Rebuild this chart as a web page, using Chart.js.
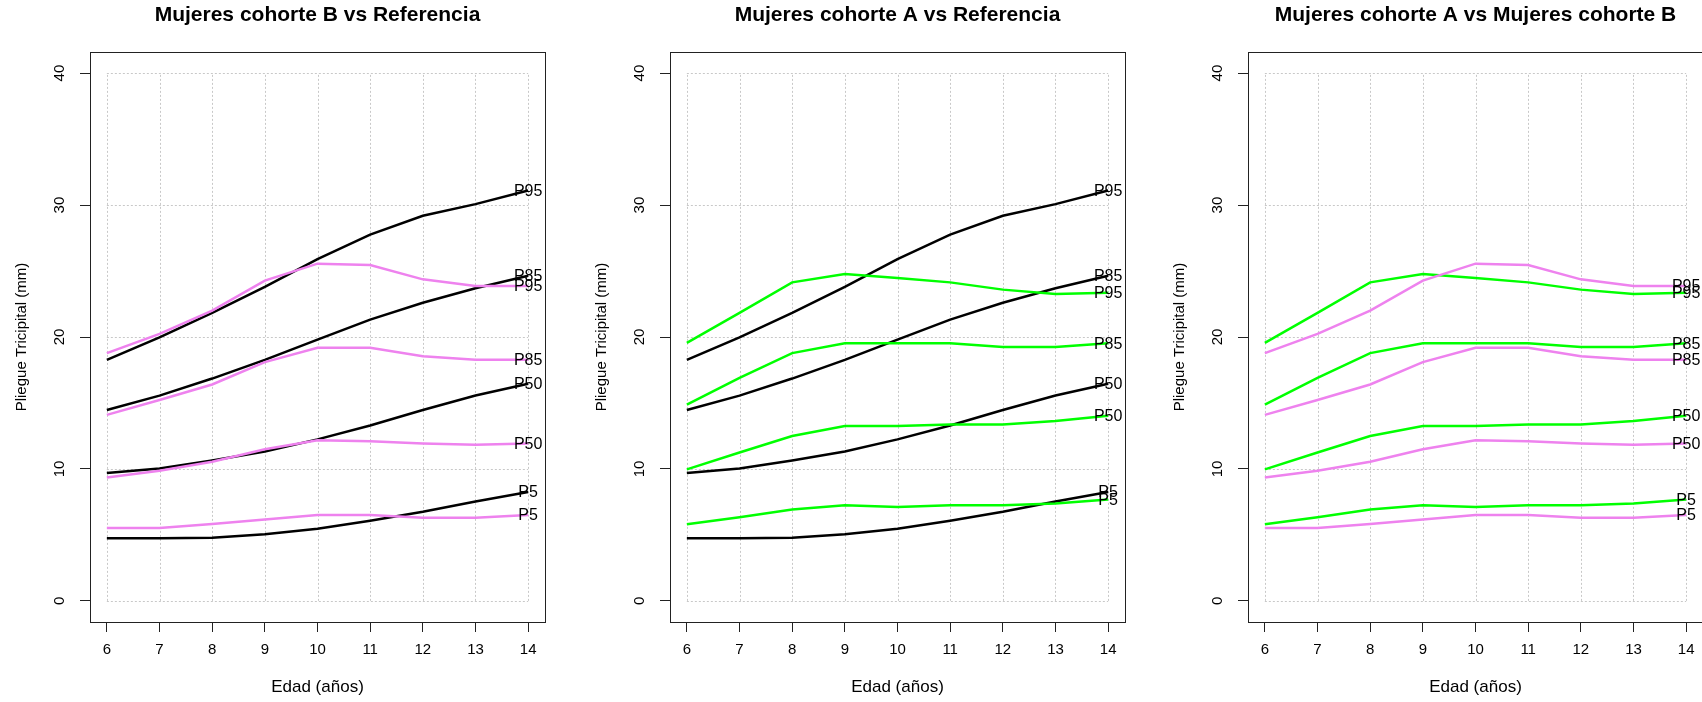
<!DOCTYPE html>
<html lang="es">
<head>
<meta charset="utf-8">
<title>Pliegue tricipital - mujeres</title>
<script src="https://cdn.jsdelivr.net/npm/chart.js@4.4.1/dist/chart.umd.min.js"></script>
<style>
  html, body { margin: 0; padding: 0; background: #fff; overflow: hidden; }
  #fila { position: relative; width: 1702px; height: 702px; overflow: hidden; }
  .panel { position: absolute; top: 0; width: 579px; height: 702px; }
</style>
</head>
<body>
<div id="fila">
  <div class="panel" style="left:0px"><canvas id="g1" width="579" height="702"></canvas></div>
  <div class="panel" style="left:580px"><canvas id="g2" width="579" height="702"></canvas></div>
  <div class="panel" style="left:1158px"><canvas id="g3" width="579" height="702"></canvas></div>
</div>
<script>
// edades (años) y ejes
const edades = [6, 7, 8, 9, 10, 11, 12, 13, 14];
const ticksEdad = [6, 7, 8, 9, 10, 11, 12, 13, 14];
const ticksPliegue = [0, 10, 20, 30, 40];
const percentiles = ['P5', 'P50', 'P85', 'P95'];

// pliegue tricipital (mm) - referencia
const refP5  = [4.75, 4.75, 4.78, 5.05, 5.46, 6.07, 6.75, 7.53, 8.25];
const refP50 = [9.69, 10.03, 10.64, 11.32, 12.24, 13.29, 14.47, 15.56, 16.45];
const refP85 = [14.47, 15.56, 16.85, 18.27, 19.8, 21.32, 22.6, 23.7, 24.64];
const refP95 = [18.27, 19.97, 21.83, 23.8, 25.9, 27.76, 29.19, 30.07, 31.1];

// mujeres cohorte A
const aP5  = [5.8, 6.34, 6.92, 7.25, 7.12, 7.25, 7.25, 7.39, 7.69];
const aP50 = [9.97, 11.25, 12.5, 13.25, 13.25, 13.36, 13.36, 13.63, 14.03];
const aP85 = [14.88, 16.9, 18.78, 19.53, 19.53, 19.53, 19.25, 19.25, 19.53];
const aP95 = [19.56, 21.83, 24.14, 24.78, 24.47, 24.14, 23.59, 23.25, 23.36];

// mujeres cohorte B
const bP5  = [5.53, 5.53, 5.83, 6.17, 6.51, 6.51, 6.3, 6.3, 6.51];
const bP50 = [9.36, 9.86, 10.54, 11.49, 12.17, 12.1, 11.93, 11.83, 11.93];
const bP85 = [14.1, 15.22, 16.4, 18.1, 19.19, 19.19, 18.54, 18.27, 18.27];
const bP95 = [18.78, 20.24, 22.0, 24.27, 25.56, 25.46, 24.37, 23.86, 23.86];

const NEGRO = '#000000';
const VIOLETA = '#EE82EE';
const VERDE = '#00FF00';
const fuente = '"Liberation Sans", Arial, sans-serif';

function serie(valores, color, etiqueta) {
    return {
        label: etiqueta,
        data: edades.map((e, i) => ({ x: e, y: valores[i] })),
        borderColor: color,
        borderWidth: 2.5,
        pointRadius: 0,
        fill: false,
        tension: 0
    };
}

function grupo(tabla, color) {
    return percentiles.map((p, i) => serie(tabla[i], color, p));
}

// rejilla punteada solo dentro del rango de datos + caja
const rejilla = {
    id: 'rejilla',
    beforeDatasetsDraw(chart) {
        const { ctx, chartArea: a, scales: { x, y } } = chart;
        const x0 = x.getPixelForValue(ticksEdad[0]);
        const x1 = x.getPixelForValue(ticksEdad[ticksEdad.length - 1]);
        const y0 = y.getPixelForValue(ticksPliegue[0]);
        const y1 = y.getPixelForValue(ticksPliegue[ticksPliegue.length - 1]);
        ctx.save();
        ctx.strokeStyle = '#c8c8c8';
        ctx.lineWidth = 1;
        ctx.setLineDash([2, 2]);
        ctx.beginPath();
        ticksEdad.forEach(v => {
            const px = Math.round(x.getPixelForValue(v)) + 0.5;
            ctx.moveTo(px, y0);
            ctx.lineTo(px, y1);
        });
        ticksPliegue.forEach(v => {
            const py = Math.round(y.getPixelForValue(v)) + 0.5;
            ctx.moveTo(x0, py);
            ctx.lineTo(x1, py);
        });
        ctx.stroke();
        ctx.setLineDash([]);
        ctx.strokeStyle = '#222';
        ctx.strokeRect(Math.round(a.left) + 0.5, Math.round(a.top) + 0.5,
            Math.round(a.right) - Math.round(a.left), Math.round(a.bottom) - Math.round(a.top));
        ctx.restore();
    }
};

// texto del percentil al final de cada curva
const etiquetas = {
    id: 'etiquetas',
    afterDatasetsDraw(chart) {
        const { ctx, scales: { x, y } } = chart;
        ctx.save();
        ctx.font = '16px ' + fuente;
        ctx.fillStyle = '#000';
        ctx.textAlign = 'center';
        ctx.textBaseline = 'middle';
        chart.data.datasets.forEach(ds => {
            const ult = ds.data[ds.data.length - 1];
            ctx.fillText(ds.label, x.getPixelForValue(ult.x), y.getPixelForValue(ult.y) + 1);
        });
        ctx.restore();
    }
};

function grafico(id, titulo, datasets) {
    new Chart(document.getElementById(id), {
        type: 'line',
        data: { datasets: datasets },
        options: {
            responsive: false,
            animation: false,
            devicePixelRatio: 1,
            layout: { padding: { top: 0, left: 0, right: 34, bottom: 0 } },
            scales: {
                x: {
                    type: 'linear',
                    position: 'bottom',
                    min: 5.68,
                    max: 14.32,
                    afterBuildTicks: s => { s.ticks = ticksEdad.map(v => ({ value: v })); },
                    afterFit: s => { s.height = 80; },
                    border: { display: false },
                    grid: { drawOnChartArea: false, drawTicks: true, tickLength: 10, color: '#222' },
                    ticks: { padding: 9, color: '#000', maxRotation: 0, font: { family: fuente, size: 15 } },
                    title: {
                        display: true, text: 'Edad (años)', color: '#000',
                        font: { family: fuente, size: 17 }, padding: { top: 0, bottom: 4 }
                    }
                },
                y: {
                    type: 'linear',
                    position: 'left',
                    min: -1.6,
                    max: 41.6,
                    afterBuildTicks: s => { s.ticks = ticksPliegue.map(v => ({ value: v })); },
                    afterFit: s => { s.width = 90; },
                    border: { display: false },
                    grid: { drawOnChartArea: false, drawTicks: true, tickLength: 10, color: '#222' },
                    ticks: {
                        minRotation: 90, maxRotation: 90, crossAlign: 'center', padding: 12,
                        color: '#000', font: { family: fuente, size: 15 }
                    },
                    title: {
                        display: true, text: 'Pliegue Tricipital (mm)', color: '#000',
                        font: { family: fuente, size: 15 }, padding: { top: 13, bottom: 0 }
                    }
                }
            },
            plugins: {
                legend: { display: false },
                tooltip: { enabled: false },
                title: {
                    display: true,
                    text: titulo,
                    fullSize: false,
                    color: '#000',
                    font: { family: fuente, size: 21, weight: 'bold' },
                    padding: { top: 3, bottom: 23.8 }
                }
            }
        },
        plugins: [rejilla, etiquetas]
    });
}

const tablaRef = [refP5, refP50, refP85, refP95];
const tablaA = [aP5, aP50, aP85, aP95];
const tablaB = [bP5, bP50, bP85, bP95];

grafico('g1', 'Mujeres cohorte B vs Referencia', grupo(tablaB, VIOLETA).concat(grupo(tablaRef, NEGRO)));
grafico('g2', 'Mujeres cohorte A vs Referencia', grupo(tablaA, VERDE).concat(grupo(tablaRef, NEGRO)));
grafico('g3', 'Mujeres cohorte A vs Mujeres cohorte B', grupo(tablaB, VIOLETA).concat(grupo(tablaA, VERDE)));
</script>
</body>
</html>
